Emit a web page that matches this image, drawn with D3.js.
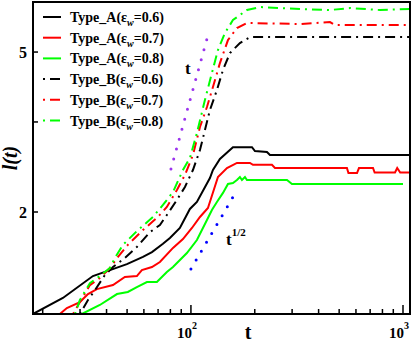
<!DOCTYPE html>
<html>
<head>
<meta charset="utf-8">
<script src="https://cdn.jsdelivr.net/npm/d3@7/dist/d3.min.js"></script>
<style>
  body { margin: 0; background: #fff; }
  svg { display: block; font-family: 'Liberation Serif', 'DejaVu Serif', serif; font-weight: bold; }
</style>
</head>
<body>
<svg id="chart" width="415" height="345"></svg>
<script>
// values, [t, l(t)]
const typeA06 = [[18, 1.115], [24.9, 1.222], [34.5, 1.386], [41.5, 1.434], [49.9, 1.484], [59.4, 1.546], [65.5, 1.59], [73.8, 1.667], [79.6, 1.724], [88.7, 1.825], [98.9, 2.035], [106.7, 2.118], [122.9, 2.43], [127, 2.544], [137, 2.71], [157.8, 2.9], [194, 2.9], [200.4, 2.836], [228.3, 2.82], [235.8, 2.772], [1079, 2.772]];
const typeA07 = [[24.1, 1.115], [26, 1.154], [29.95, 1.194], [32.7, 1.25], [36, 1.286], [42.9, 1.316], [48.8, 1.378], [55.6, 1.386], [58.7, 1.434], [65.5, 1.459], [71.4, 1.502], [82.3, 1.628], [91.7, 1.713], [101.1, 1.825], [110.3, 1.944], [120.3, 2.046], [134.1, 2.444], [147.9, 2.573], [164.8, 2.65], [189.8, 2.65], [196.1, 2.62], [241, 2.62], [249, 2.573], [544, 2.573], [553, 2.5], [607, 2.5], [620, 2.573], [722, 2.573], [735, 2.508], [917, 2.508], [939, 2.573], [970, 2.508], [1079, 2.508]];
const typeA08 = [[30.6, 1.115], [37.2, 1.174], [44.8, 1.25], [50.4, 1.265], [55.6, 1.301], [62, 1.339], [69.1, 1.339], [77, 1.418], [82.3, 1.459], [95.7, 1.581], [106.7, 1.703], [119, 1.91], [125.6, 2.023], [132.6, 2.118], [141.6, 2.231], [149.5, 2.348], [157.8, 2.362], [164.8, 2.402], [170.2, 2.444], [174, 2.402], [179.8, 2.444], [183.7, 2.402], [283.8, 2.402], [299.5, 2.348], [1000, 2.348]];
const typeB06 = [[29.95, 1.115], [32.7, 1.208], [35.3, 1.279], [39.3, 1.394], [42.9, 1.459], [48.8, 1.537], [55.6, 1.637], [64.1, 1.782], [71.4, 1.857], [77, 1.966], [85.9, 2.143], [93.7, 2.308], [102.2, 2.544], [110.3, 2.852], [122.9, 3.586], [132.6, 4.023], [141.6, 4.511], [152.8, 4.972], [170.2, 5.265], [189.8, 5.447], [1079, 5.447]];
const typeB07 = [[27.8, 1.115], [29.95, 1.194], [33.4, 1.316], [37.2, 1.37], [41.5, 1.451], [45.3, 1.546], [50.4, 1.657], [59.4, 1.804], [69.9, 1.944], [77, 2.058], [85.9, 2.269], [93.7, 2.473], [102.2, 2.772], [110.3, 3.254], [119, 3.649], [127, 4.093], [137, 4.694], [149.5, 5.355], [164.8, 5.737], [183.7, 5.905], [326.8, 5.871], [452.5, 5.938], [477.8, 5.838], [1079, 5.838]];
const typeB08 = [[28.4, 1.115], [29.95, 1.208], [33.4, 1.331], [37.2, 1.386], [41.5, 1.451], [43.8, 1.537], [47.8, 1.657], [55.6, 1.793], [66.2, 1.944], [73.8, 2.082], [82.3, 2.243], [91.7, 2.544], [98.9, 2.725], [106.7, 3.144], [116.4, 3.798], [125.6, 4.435], [134.1, 5.058], [144.7, 5.576], [157.8, 6.007], [183.7, 6.361], [211.6, 6.471], [326.8, 6.398], [452.5, 6.361], [562.3, 6.434], [778.9, 6.361], [1079, 6.398]];
const guideT = [[80.5, 2.56], [122, 5.65]];
const guideHalf = [[100, 1.443], [163, 2.243]];

const seriesNames = ['Type_A', 'Type_A', 'Type_A', 'Type_B', 'Type_B', 'Type_B'];
const epsValues = ['0.6', '0.7', '0.8', '0.6', '0.7', '0.8'];
const seriesData = [typeA06, typeA07, typeA08, typeB06, typeB07, typeB08];
const seriesColors = ['#000000', '#ff0000', '#00ff00', '#000000', '#ff0000', '#00ff00'];
const seriesDash = [null, null, null, '2,5,10,5', '2,5,10,5', '2,5,10,5'];

const xMajor = [100, 1000];
const xMinor = [20, 30, 40, 50, 60, 70, 80, 90, 200, 300, 400, 500, 600, 700, 800, 900];
const yLabeled = [2, 5];
const yPlain = [3.35];

const $svg = d3.select('#chart');
const m = { left: 33, right: 410, top: 2, bottom: 314 };

const x = d3.scaleLog().domain([18, 1079]).range([m.left, m.right]);
const y = d3.scaleLog().domain([1.115, 6.66]).range([m.bottom, m.top]);

$svg.append('clipPath').attr('id', 'clip')
	.append('rect').attr('x', m.left).attr('y', m.top).attr('width', m.right - m.left).attr('height', m.bottom - m.top);

const line = d3.line().x(d => x(d[0])).y(d => y(d[1]));
const plot = $svg.append('g').attr('clip-path', 'url(#clip)');

// guide lines
plot.append('path').datum(guideT).attr('d', line)
	.attr('fill', 'none').attr('stroke', '#9a33ee').attr('stroke-width', 3)
	.attr('stroke-linecap', 'round').attr('stroke-dasharray', '0,10.3');
plot.append('path').datum(guideHalf).attr('d', line)
	.attr('fill', 'none').attr('stroke', '#0000ff').attr('stroke-width', 3)
	.attr('stroke-linecap', 'round').attr('stroke-dasharray', '0,10.3');

seriesData.forEach((d, i) => {
	plot.append('path').datum(d).attr('d', line)
		.attr('fill', 'none')
		.attr('stroke', seriesColors[i])
		.attr('stroke-width', 2)
		.attr('stroke-dasharray', seriesDash[i]);
});

// frame
$svg.append('rect').attr('x', m.left).attr('y', m.top).attr('width', m.right - m.left).attr('height', m.bottom - m.top)
	.attr('fill', 'none').attr('stroke', '#000').attr('stroke-width', 2);

// x ticks, inward
const xAxis = $svg.append('g');
xAxis.selectAll('line.major').data(xMajor).enter().append('line')
	.attr('x1', d => x(d)).attr('x2', d => x(d))
	.attr('y1', m.bottom).attr('y2', m.bottom - 9)
	.attr('stroke', '#000').attr('stroke-width', 1.5);
xAxis.selectAll('line.minor').data(xMinor).enter().append('line')
	.attr('x1', d => x(d)).attr('x2', d => x(d))
	.attr('y1', m.bottom).attr('y2', m.bottom - 5)
	.attr('stroke', '#000').attr('stroke-width', 1.5);
const xLab = xAxis.selectAll('text').data(xMajor).enter().append('text')
	.attr('x', d => x(d) - 4).attr('y', 338)
	.attr('text-anchor', 'middle').attr('font-size', 15);
xLab.append('tspan').text('10');
xLab.append('tspan').attr('font-size', 10).attr('dy', -9).text(d => Math.round(Math.log10(d)));

// y ticks
const yAxis = $svg.append('g');
yAxis.selectAll('line').data(yLabeled.concat(yPlain)).enter().append('line')
	.attr('x1', m.left).attr('x2', m.left + 5)
	.attr('y1', d => y(d)).attr('y2', d => y(d))
	.attr('stroke', '#000').attr('stroke-width', 1.5);
yAxis.selectAll('text').data(yLabeled).enter().append('text')
	.attr('x', 27).attr('y', d => y(d)).attr('dy', '0.35em')
	.attr('text-anchor', 'end').attr('font-size', 16).text(d => d);

// axis titles
$svg.append('text').attr('x', 248).attr('y', 339).attr('text-anchor', 'middle')
	.attr('font-size', 20).text('t');
$svg.append('text').attr('transform', 'translate(17,158) rotate(-90)')
	.attr('text-anchor', 'middle').attr('font-size', 20).attr('font-style', 'italic').text('l(t)');

// guide labels
$svg.append('text').attr('x', 185).attr('y', 74).attr('font-size', 17).text('t');
const half = $svg.append('text').attr('x', 226).attr('y', 245).attr('font-size', 17);
half.append('tspan').text('t');
half.append('tspan').attr('font-size', 11).attr('dy', -9).text('1/2');

// legend
const legend = $svg.append('g');
seriesData.forEach((d, i) => {
	const ly = 17 + i * 20.7;
	legend.append('line').attr('x1', 43).attr('x2', 61).attr('y1', ly).attr('y2', ly)
		.attr('stroke', seriesColors[i]).attr('stroke-width', 2)
		.attr('stroke-dasharray', seriesDash[i]);
	const t = legend.append('text').attr('x', 70).attr('y', ly + 5).attr('font-size', 14);
	t.append('tspan').text(seriesNames[i] + '(\u03b5');
	t.append('tspan').attr('font-size', 10).attr('font-style', 'italic').attr('dy', 4).text('w');
	t.append('tspan').attr('dy', -4).text('=' + epsValues[i] + ')');
});
</script>
</body>
</html>
